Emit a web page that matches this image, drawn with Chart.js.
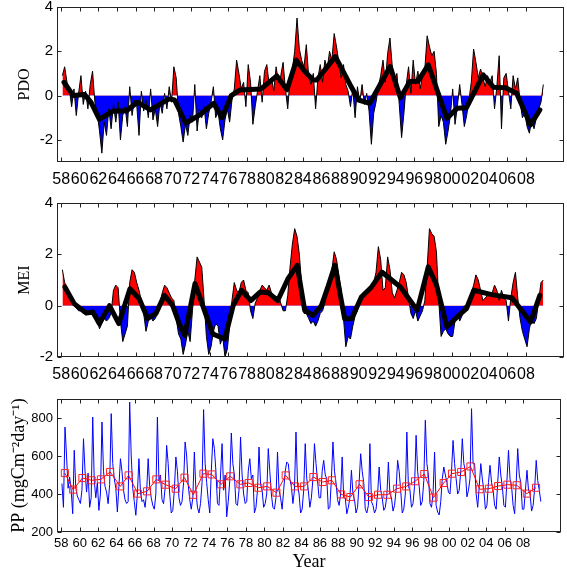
<!DOCTYPE html>
<html>
<head>
<meta charset="utf-8">
<script src="https://cdn.jsdelivr.net/npm/chart.js@4.4.1/dist/chart.umd.min.js"></script>
<style>
  body { margin: 0; background: #fff; }
  canvas { position: absolute; left: 0; }
</style>
</head>
<body>
<canvas id="pdoChart" width="567" height="190" style="top:0px"></canvas>
<canvas id="meiChart" width="567" height="190" style="top:190px"></canvas>
<canvas id="ppChart" width="567" height="189" style="top:380px"></canvas>
<script>
// Zeitachse: Messreihe beginnt 1958, Werte gleichmäßig über das Jahr verteilt
const startYear = 1958;
const yearTicks = [1958, 1960, 1962, 1964, 1966, 1968, 1970, 1972, 1974, 1976, 1978, 1980, 1982,
  1984, 1986, 1988, 1990, 1992, 1994, 1996, 1998, 2000, 2002, 2004, 2006, 2008];
const pdoTicks = [-2, 0, 2, 4];
const meiTicks = [-2, 0, 2, 4];
const ppTicks = [200, 400, 600, 800];

// PDO, 4 Werte pro Jahr (1958–2009)
const pdoValues = [
  0.9, 1.3, 0.6, 0.3,   -0.5, 0.3, -0.9, 0.1,   0.9, -0.4, 0.2, -0.6,   0.5, 1.1, -0.3, -0.8,
  -1.6, -2.6, -1.2, -1.8,   -0.6, -1.5, -0.4, -1.2,   -0.3, -2.0, -0.9, -0.5,   -1.4, 0.4, -0.9, -0.2,
  -0.4, -1.8, 0.2, -0.7,   -0.2, -1.0, 0.3, -1.1,   -0.6, -1.4, -0.3, -0.8,   0.1, -0.6, 0.4, -0.3,
  1.3, 0.8, -0.8, -1.4,   -2.1, -1.3, -1.8, -0.9,   -1.2, 0.5, -1.6, -0.6,   -1.0, -0.5, -1.5, -0.8,
  -0.3, 0.4, -1.0, -0.7,   -1.5, -2.0, -1.1, -0.6,   -1.2, -0.2, 0.3, 1.6,   1.0, 0.3, 0.6, -0.5,
  1.4, 0.6, -1.3, -0.5,   0.2, 0.9, -0.3, 1.1,   1.4, 0.5, 0.8, 0.2,   1.3, 0.6, 0.9, 1.5,
  0.3, -0.6, 0.8, 1.2,   2.0, 3.5, 2.1, 1.6,   1.3, 2.3, 0.9, 0.5,   1.0, -0.6, 0.8, 1.4,
  0.6, 1.6, 1.2, 2.0,   1.6, 2.8, 2.2, 1.5,   0.8, 1.4, 0.5, 0.2,   -0.5, 0.3, -1.0, 0.4,
  -0.3, 0.5, -0.4, 0.1,   -0.7, -2.2, -0.8, -0.3,   0.4, 0.9, 1.6, 0.6,   1.9, 2.6, 1.3, 0.7,
  1.0, -0.4, -1.9, -0.8,   0.5, 1.3, 0.1, 1.6,   0.5, 1.1, 0.3, 0.9,   1.2, 2.7, 2.2, 1.8,
  2.0, 1.0, -1.4, -0.9,   -1.2, -2.2, -1.6, -0.9,   0.3, -1.3, -0.5, 0.5,   -0.4, -1.4, -0.9, -0.2,
  0.6, 2.1, 1.5, 0.8,   1.2, 0.8, 0.4, 0.9,   0.6, 0.9, -0.6, 0.4,   1.8, -1.5, 0.8, 1.0,
  0.2, -0.6, 0.9, 0.3,   0.8, -0.3, -1.0, -0.8,   -1.4, -1.7, -1.1, -1.5,   -1.0, -0.6, -0.3, 0.5
];
// geglättete PDO-Kurve
const pdoSmoothYears = [1958.3, 1959.3, 1960.5, 1961.2, 1962.1, 1963.6, 1965.0, 1966.2, 1967.6, 1969.6,
  1970.2, 1971.4, 1973.0, 1974.4, 1975.3, 1976.3, 1977.2, 1979.5, 1981.2, 1982.3, 1983.3, 1984.2,
  1985.1, 1985.5, 1987.5, 1989.1, 1990.0, 1991.2, 1993.4, 1994.5, 1995.5, 1996.4, 1997.5, 1999.5,
  2000.6, 2001.6, 2003.4, 2004.5, 2005.8, 2007.0, 2008.5, 2009.5];
const pdoSmoothValues = [0.6, 0.0, 0.05, -0.3, -1.07, -0.7, -0.7, -0.3, -0.65, -0.15,
  -0.2, -1.25, -0.85, -0.35, -1.0, 0.0, 0.25, 0.3, 0.89, 0.26, 1.6, 1.1,
  0.7, 0.7, 1.76, 0.48, -0.2, -0.35, 1.31, -0.1, 0.63, 0.65, 1.39, -1.03,
  -0.57, -0.55, 0.94, 0.38, 0.35, 0.1, -1.33, -0.65];

// MEI, 4 Werte pro Jahr (1958–2009)
const meiValues = [
  1.4, 0.9, 0.7, 0.5,   0.3, 0.0, -0.1, -0.2,   -0.2, -0.3, -0.2, -0.3,   -0.2, -0.3, -0.4, -0.6,
  -0.9, -0.7, -0.5, -0.6,   -0.5, -0.3, 0.6, 0.8,   0.7, -0.6, -1.4, -1.1,   -0.8, 0.9, 1.4, 1.3,
  0.9, 0.6, 0.2, -0.3,   -1.0, -0.6, -0.4, -0.6,   -0.5, -0.3, 0.1, 0.5,   0.8, 0.7, 0.5, 0.3,
  0.2, -0.5, -1.1, -1.3,   -1.9, -1.5, -1.0, -1.4,   -0.2, 1.0, 1.9, 1.7,   1.5, 0.2, -1.2, -1.9,
  -1.6, -1.0, -0.7, -0.8,   -1.5, -1.2, -2.0, -1.7,   -0.8, 0.2, 0.9, 0.6,   0.5, 0.9, 1.0, 0.6,
  0.5, -0.2, -0.5, 0.1,   0.3, 0.6, 0.8, 0.7,   0.6, 0.8, 0.5, 0.4,   0.2, 0.4, 0.1, -0.2,
  -0.2, 0.4, 1.5, 2.4,   3.0, 2.7, 2.0, 0.8,   -0.3, -0.3, -0.5, -0.7,   -0.6, -0.8, -0.6, -0.3,
  -0.2, 0.1, 0.6, 1.0,   1.4, 2.1, 1.8, 1.2,   0.6, -0.5, -1.6, -1.2,   -1.3, -0.8, -0.4, -0.2,
  0.2, 0.3, 0.4, 0.5,   0.6, 0.7, 0.9, 1.3,   2.3, 1.8, 0.6, 0.7,   1.9, 1.4, 0.5, 0.3,
  0.6, 0.9, 1.3, 1.2,   0.9, 0.3, -0.3, -0.5,   -0.2, -0.6, -0.4, -0.2,   0.2, 1.5, 3.0, 2.8,
  2.7, 2.1, 0.2, -1.2,   -1.0, -0.9, -1.1, -1.2,   -1.2, -0.6, -0.3, -0.6,   -0.4, 0.0, -0.2, 0.1,
  0.5, 0.8, 1.2, 1.0,   0.6, 0.2, 0.3, 0.4,   0.4, 0.5, 0.8, 0.6,   0.2, 0.6, 0.3, 0.2,
  -0.6, 0.3, 0.9, 1.3,   0.3, -0.5, -1.0, -1.3,   -1.6, -0.9, -0.5, -0.7,   -0.5, 0.2, 0.9, 1.0
];
const meiSmoothYears = [1958.4, 1959.4, 1960.7, 1961.4, 1962.1, 1963.2, 1964.2, 1965.4, 1966.4, 1967.3,
  1968.2, 1969.1, 1970.0, 1970.7, 1971.3, 1972.4, 1974.3, 1975.6, 1976.5, 1977.4, 1978.4, 1979.4,
  1980.3, 1981.3, 1982.4, 1983.4, 1984.2, 1985.1, 1986.0, 1986.7, 1987.45, 1988.5, 1989.25, 1990.3,
  1991.4, 1992.5, 1994.5, 1996.3, 1997.5, 1998.4, 1999.5, 2000.6, 2001.6, 2002.4, 2004.3, 2006.5,
  2008.5, 2009.5];
const meiSmoothValues = [0.73, 0.08, -0.29, -0.25, -0.7, 0.0, -0.7, 0.66, 0.27, -0.5,
  -0.3, 0.4, 0.0, -0.7, -1.16, 0.86, -1.1, -1.3, 0.0, 0.6, 0.2, 0.53,
  0.5, 0.2, 1.05, 1.57, -0.18, -0.38, 0.0, 0.73, 1.57, -0.51, -0.51, 0.34,
  0.73, 1.31, 0.73, -0.18, 1.51, 0.79, -0.83, -0.44, -0.12, 0.6, 0.43, 0.31,
  -0.64, 0.4];

// Primärproduktion, 6 Werte pro Jahr (1958–2009)
const ppValues = [
  455, 330, 752, 600, 430, 490,   420, 296, 630, 430, 390, 370,   350, 420, 691, 520, 410, 510,
  330, 380, 805, 470, 380, 460,   314, 400, 779, 520, 440, 410,   349, 450, 823, 560, 480, 430,
  305, 440, 586, 520, 420, 370,   350, 360, 884, 600, 430, 360,   288, 400, 586, 410, 360, 370,
  330, 410, 586, 440, 380, 340,   320, 400, 805, 470, 500, 370,   349, 430, 656, 560, 400, 300,
  314, 420, 595, 520, 380, 340,   360, 460, 674, 600, 450, 370,   320, 380, 621, 420, 330, 300,
  350, 460, 844, 560, 460, 370,   300, 520, 691, 640, 520, 350,   340, 500, 665, 420, 500, 280,
  360, 470, 721, 560, 500, 350,   340, 420, 700, 500, 400, 350,   360, 520, 586, 480, 500, 300,
  330, 420, 647, 450, 420, 330,   350, 400, 639, 520, 400, 330,   320, 380, 621, 420, 380, 320,
  420, 520, 568, 560, 480, 440,   350, 420, 726, 450, 400, 300,   320, 420, 665, 480, 420, 330,
  380, 480, 665, 560, 470, 380,   380, 520, 577, 500, 480, 320,   330, 480, 674, 520, 460, 370,
  340, 400, 595, 380, 380, 296,   330, 380, 525, 400, 370, 300,   330, 460, 612, 520, 460, 320,
  300, 340, 665, 360, 340, 300,   320, 400, 542, 420, 380, 314,   330, 390, 568, 400, 380, 310,
  340, 420, 577, 520, 420, 300,   320, 400, 726, 440, 420, 330,   350, 440, 709, 520, 440, 340,
  360, 470, 788, 560, 500, 350,   330, 400, 621, 340, 305, 290,   360, 480, 542, 500, 460, 410,
  400, 520, 682, 560, 480, 400,   420, 520, 691, 560, 520, 385,   420, 480, 849, 560, 560, 400,
  330, 440, 560, 480, 420, 320,   340, 460, 551, 460, 420, 340,   320, 460, 595, 500, 440, 340,
  330, 470, 630, 480, 440, 340,   296, 460, 639, 500, 460, 320,   320, 420, 525, 420, 400, 310,
  340, 430, 577, 470, 420, 360
];
// Jahresmittel (rote Quadrate)
const ppMeanYears = [1958.4, 1959.3, 1960.3, 1961.3, 1962.3, 1963.3, 1964.4, 1965.3, 1966.3, 1967.3,
  1968.3, 1969.3, 1970.4, 1971.35, 1972.3, 1973.4, 1974.3, 1975.3, 1976.3, 1977.4, 1978.3, 1979.35,
  1980.3, 1981.3, 1982.3, 1983.3, 1984.3, 1985.3, 1986.3, 1987.3, 1988.3, 1989.3, 1990.3, 1991.3,
  1992.3, 1993.3, 1994.35, 1995.35, 1996.3, 1997.3, 1998.3, 1999.4, 2000.3, 2001.3, 2002.3, 2003.3,
  2004.3, 2005.3, 2006.3, 2007.3, 2008.4, 2009.4];
const ppMeanValues = [510, 423, 484, 472, 477, 516, 440, 498, 402, 414,
  477, 449, 428, 486, 396, 507, 503, 451, 493, 451, 458, 433,
  440, 407, 498, 440, 440, 489, 463, 472, 398, 384, 451, 384,
  396, 396, 428, 440, 467, 505, 381, 458, 507, 516, 545, 425,
  428, 442, 449, 446, 402, 433];

// Achsengrenzen
const X_MIN = 1957.55, X_MAX = 2012.1;

Chart.defaults.color = "#000";
Chart.defaults.font.family = "'Liberation Sans', Arial, sans-serif";
const serif = "'Liberation Serif', 'Times New Roman', serif";

function perYearPoints(values, perYear) {
  return values.map((v, i) => ({ x: startYear + (i + 0.5) / perYear, y: v }));
}
function pairPoints(years, values) {
  return years.map((x, i) => ({ x, y: values[i] }));
}

// Rahmen + nach innen zeigende Ticks an allen vier Seiten
const framePlugin = {
  id: "frame",
  afterDatasetsDraw(chart) {
    const { ctx, chartArea: a, scales: { x, y } } = chart;
    const L = Math.round(a.left) + 0.5, R = Math.round(a.right) - 0.5;
    const T = Math.round(a.top) + 0.5, B = Math.round(a.bottom) - 0.5;
    ctx.save();
    ctx.strokeStyle = "#222";
    ctx.lineWidth = 1;
    ctx.strokeRect(L, T, R - L, B - T);
    ctx.beginPath();
    x.ticks.forEach(t => {
      const px = Math.round(x.getPixelForValue(t.value)) + 0.5;
      ctx.moveTo(px, B); ctx.lineTo(px, B - 4);
      ctx.moveTo(px, T); ctx.lineTo(px, T + 4);
    });
    y.ticks.forEach(t => {
      const py = Math.round(y.getPixelForValue(t.value)) + 0.5;
      ctx.moveTo(L, py); ctx.lineTo(L + 4, py);
      ctx.moveTo(R, py); ctx.lineTo(R - 4, py);
    });
    ctx.stroke();
    ctx.restore();
  }
};

function xAxis(height, fontSize, pad, title) {
  return {
    type: "linear", min: X_MIN, max: X_MAX,
    grid: { display: false, drawTicks: false },
    border: { display: false },
    afterBuildTicks: s => { s.ticks = yearTicks.map(v => ({ value: v })); },
    ticks: {
      autoSkip: false, maxRotation: 0, padding: pad,
      font: { size: fontSize },
      callback: v => String(v % 100).padStart(2, "0")
    },
    title: title
      ? { display: true, text: title, font: { family: serif, size: 18, lineHeight: 0.8 }, padding: 0 }
      : { display: false },
    afterFit: s => { s.height = height; s.paddingLeft = 0; s.paddingRight = 0; }
  };
}

function yAxis(min, max, tickList, fontSize, title, titleSize, titlePad) {
  return {
    min, max,
    grid: { display: false, drawTicks: false },
    border: { display: false },
    afterBuildTicks: s => { s.ticks = tickList.map(v => ({ value: v })); },
    ticks: { padding: 4, font: { size: fontSize } },
    title: { display: true, text: title, font: { family: serif, size: titleSize }, padding: { top: titlePad, bottom: 0 } },
    afterFit: s => { s.width = 57; s.paddingTop = 0; s.paddingBottom = 0; }
  };
}

function baseOptions(top, scales) {
  return {
    responsive: false,
    devicePixelRatio: 1,
    animation: false,
    events: [],
    layout: { padding: { top, right: 3, left: 0, bottom: 0 } },
    plugins: { legend: { display: false }, tooltip: { enabled: false } },
    scales
  };
}

function indexChart(id, values, smoothYears, smoothValues, yMin, ticks, title, top, xHeight) {
  new Chart(document.getElementById(id), {
    type: "line",
    data: {
      datasets: [
        {
          data: pairPoints(smoothYears, smoothValues),
          borderColor: "#000", borderWidth: 5, pointRadius: 0,
          borderJoinStyle: "round", borderCapStyle: "round", fill: false, order: 0
        },
        {
          data: perYearPoints(values, 4),
          borderColor: "#000", borderWidth: 1, pointRadius: 0,
          fill: { target: { value: 0 }, above: "#ff0000", below: "#0000ff" }, order: 1
        }
      ]
    },
    options: baseOptions(top, {
      x: xAxis(xHeight, 16, 8, null),
      y: yAxis(yMin, 4, ticks, 15, title, 16, 15)
    }),
    plugins: [framePlugin]
  });
}

indexChart("pdoChart", pdoValues, pdoSmoothYears, pdoSmoothValues, -3, pdoTicks, "PDO", 7, 28);
indexChart("meiChart", meiValues, meiSmoothYears, meiSmoothValues, -2, meiTicks, "MEI", 13, 23);

new Chart(document.getElementById("ppChart"), {
  type: "line",
  data: {
    datasets: [
      {
        data: pairPoints(ppMeanYears, ppMeanValues),
        borderColor: "#ff0000", borderWidth: 1,
        pointStyle: "rect", pointRadius: 5, pointBorderWidth: 1,
        pointBorderColor: "#ff2020", pointBackgroundColor: "rgba(0,0,0,0)",
        fill: false, order: 0
      },
      {
        data: perYearPoints(ppValues, 6),
        borderColor: "#0000ff", borderWidth: 1, pointRadius: 0, fill: false, order: 1
      }
    ]
  },
  options: baseOptions(19, {
    x: xAxis(37, 13, 4, "Year"),
    y: yAxis(200, 900, ppTicks, 13, "PP (mgCm\u207B\u00B2day\u207B\u00B9)", 18, 8)
  }),
  plugins: [framePlugin]
});
</script>
</body>
</html>
